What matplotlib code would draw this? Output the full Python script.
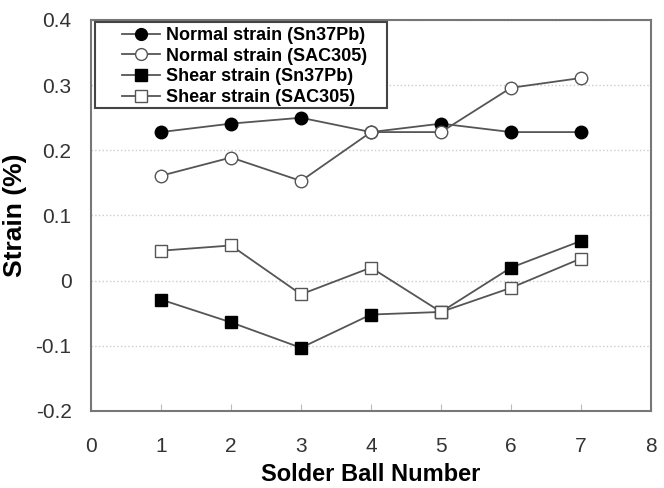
import matplotlib
matplotlib.use('Agg')
import matplotlib.pyplot as plt
from matplotlib.patches import Rectangle

plt.rcParams['font.family'] = ['Liberation Sans', 'DejaVu Sans']

# Data
balls = [1, 2, 3, 4, 5, 6, 7]
normal_sn37pb = [0.228, 0.241, 0.250, 0.228, 0.241, 0.228, 0.228]
normal_sac305 = [0.161, 0.189, 0.153, 0.228, 0.228, 0.296, 0.311]
shear_sn37pb = [-0.029, -0.064, -0.103, -0.052, -0.048, 0.020, 0.061]
shear_sac305 = [0.046, 0.054, -0.021, 0.020, -0.048, -0.011, 0.034]
labels = ['Normal strain (Sn37Pb)', 'Normal strain (SAC305)',
          'Shear strain (Sn37Pb)', 'Shear strain (SAC305)']

lineColour = '#555555'
frameColour = '#777777'

fig = plt.figure(figsize=(6.64, 4.88), dpi=100)
ax = fig.add_axes([91/664, 1 - 411/488, (651-91)/664, (411-20)/488])

ax.plot(balls, normal_sn37pb, color=lineColour, lw=1.3, marker='o', ms=9,
        mfc='black', mec='black', label=labels[0], zorder=3)
ax.plot(balls, normal_sac305, color=lineColour, lw=1.3, marker='o', ms=9,
        mfc='white', mec=lineColour, mew=1.0, label=labels[1], zorder=3)
ax.plot(balls, shear_sn37pb, color=lineColour, lw=1.3, marker='s', ms=9,
        mfc='black', mec='black', label=labels[2], zorder=3)
ax.plot(balls, shear_sac305, color=lineColour, lw=1.3, marker='s', ms=9,
        mfc='white', mec=lineColour, mew=1.0, label=labels[3], zorder=3)

ax.set_xlim(0, 8)
ax.set_ylim(-0.2, 0.4)
ax.set_xticks(range(0, 9))
ax.set_yticks([-0.2, -0.1, 0, 0.1, 0.2, 0.3, 0.4])
ax.set_yticklabels(['-0.2', '-0.1', '0', '0.1', '0.2', '0.3', '0.4'])
ax.yaxis.grid(True, linestyle=':', color='#cccccc', lw=1)
ax.set_axisbelow(True)

for s in ax.spines.values():
    s.set_color(frameColour)
    s.set_linewidth(1.5)

ax.tick_params(axis='x', direction='in', length=5, color='#bbbbbb', labelsize=15,
               pad=19, labelcolor='#333333')
ax.tick_params(axis='y', length=0, labelsize=15, pad=14, labelcolor='#333333')

ax.set_xlabel('Solder Ball Number', fontsize=17, fontweight='bold', labelpad=5)
ax.set_ylabel('Strain (%)', fontsize=19, fontweight='bold', va='center')
ax.yaxis.set_label_coords(-0.135, 0.5)

# legend with a wide box drawn by hand
leg = ax.legend(loc='upper left', bbox_to_anchor=(0.055, 0.982),
                prop={'weight': 'bold', 'size': 13}, frameon=False,
                borderpad=0, labelspacing=0.2, handlelength=2.1,
                handletextpad=0.35, borderaxespad=0)
for h in leg.legend_handles:
    h.set_markersize(8.5)
ax.add_patch(Rectangle((0.007, 0.775), 0.522, 0.22, transform=ax.transAxes,
                       fill=True, facecolor='white', edgecolor='#444444',
                       lw=1.5, zorder=4))
leg.set_zorder(5)

plt.savefig('out.png', dpi=100)
